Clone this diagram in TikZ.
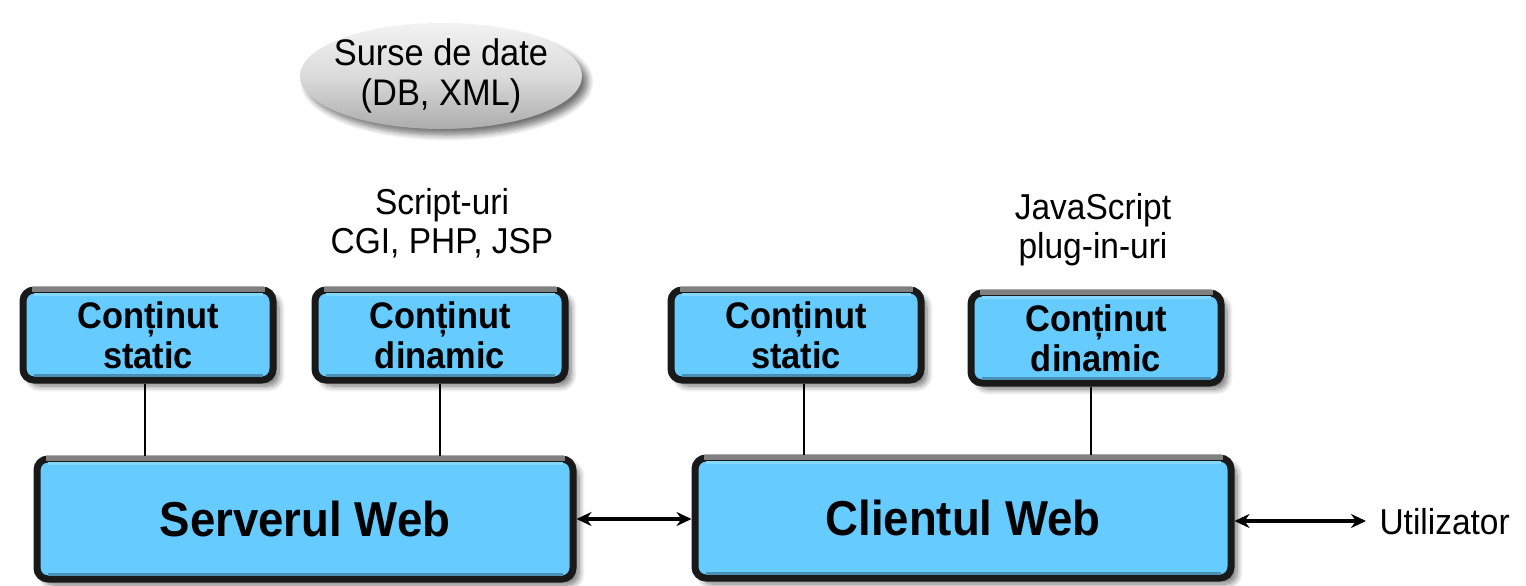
\documentclass[tikz,border=0pt]{standalone}
\usepackage{fontspec}
\setmainfont{Liberation Sans}[FakeStretch=0.93]
\usetikzlibrary{shadows.blur,arrows.meta,shapes.geometric}
\definecolor{boxblue}{HTML}{66CCFF}
\definecolor{boxlight}{HTML}{84D8FF}
\definecolor{boxdark}{HTML}{4A90B4}
\begin{document}
\begin{tikzpicture}[x=1pt,y=-1pt,
  shd/.style={blur shadow={shadow xshift=6pt, shadow yshift=-6pt, shadow blur steps=8, shadow opacity=55, shadow blur radius=6pt}},
  smallbox/.style={shd, rounded corners=11pt, fill=boxblue, draw=black!90, line width=7pt,
    minimum width=250pt, minimum height=90pt, align=center,
    font=\fontsize{37}{40}\selectfont\bfseries},
  bigbox/.style={smallbox, minimum width=536pt, minimum height=120pt, font=\fontsize{49}{52}\selectfont\bfseries},
  topedge/.style={line width=5pt, black!50},
  hilite/.style={line width=3pt, boxlight},
  lowedge/.style={line width=3pt, boxdark},
  plain/.style={align=center, font=\fontsize{36}{39}\selectfont},
  link/.style={line width=1.8pt},
  dbl/.style={line width=3.4pt, {Stealth[length=15pt,width=14pt]}-{Stealth[length=15pt,width=14pt]}}
]
\useasboundingbox (0,0) rectangle (1526,586);
% data source ellipse
\node[ellipse, draw=none, minimum width=282pt, minimum height=106pt, inner sep=0pt,
      top color=gray!10, bottom color=gray!65, middle color=gray!28, shd] (src) at (441,76) {};
\node[align=center, font=\fontsize{37}{40}\selectfont] (srctxt) at (src.center) {Surse de date\\(DB, XML)};
% annotations
\node[plain] (scr) at (442,223) {Script-uri\\CGI, PHP, JSP};
\node[plain] (js) at (1093,230) {JavaScript\\plug-in-uri};
% small boxes
\node[smallbox] (b1) at (148,335) {Conținut\\static};
\node[smallbox] (b2) at (440,335) {Conținut\\dinamic};
\node[smallbox] (b3) at (796,335) {Conținut\\static};
\node[smallbox] (b4) at (1096,338) {Conținut\\dinamic};
% big boxes
\node[bigbox] (srv) at (305,519) {Serverul Web};
\node[bigbox] (cli) at (963,518) {Clientul Web};
% bevel edges
\foreach \n in {b1,b2,b3,b4,srv,cli}{
  \draw[topedge] ([xshift=12pt,yshift=-3pt]\n.north west) -- ([xshift=-12pt,yshift=-3pt]\n.north east);
  \draw[hilite] ([xshift=14pt,yshift=-8pt]\n.north west) -- ([xshift=-14pt,yshift=-8pt]\n.north east);
  \draw[lowedge] ([xshift=14pt,yshift=8.5pt]\n.south west) -- ([xshift=-14pt,yshift=8.5pt]\n.south east);
}
% connectors
\draw[link] ([xshift=-3pt]b1.south) -- ([xshift=-3pt]b1.south |- srv.north);
\draw[link] (b2.south) -- (b2.south |- srv.north);
\draw[link] ([xshift=8pt]b3.south) -- ([xshift=8pt]b3.south |- cli.north);
\draw[link] ([xshift=-5pt]b4.south) -- ([xshift=-5pt]b4.south |- cli.north);
% arrows
\draw[dbl] (srv.east) -- (srv.east -| cli.west);
\node[plain, anchor=west] (usr) at (1376,522) {Utilizator};
\coordinate (usrend) at (1366,521);
\draw[dbl] (cli.east |- usrend) -- (usrend);
\end{tikzpicture}
\end{document}
